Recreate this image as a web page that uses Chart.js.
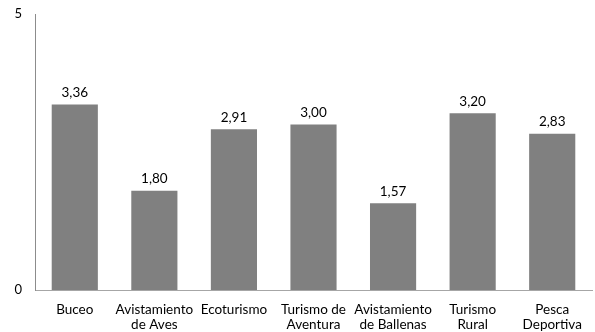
<!DOCTYPE html>
<html>
<head>
<meta charset="utf-8">
<script src="https://cdn.jsdelivr.net/npm/chart.js@4"></script>
<style>
html,body{margin:0;padding:0;background:#fff;}
#wrap{width:595px;height:332px;position:relative;}
</style>
</head>
<body>
<div id="wrap"><canvas id="c" width="595" height="332"></canvas></div>
<script>
const categories = [
  ["Buceo"],
  ["Avistamiento", "de Aves"],
  ["Ecoturismo"],
  ["Turismo de", "Aventura"],
  ["Avistamiento", "de Ballenas"],
  ["Turismo", "Rural"],
  ["Pesca", "Deportiva"]
];
const values = [3.36, 1.80, 2.91, 3.00, 1.57, 3.20, 2.83];
const yTicks = [0, 5];

const FONT = "Lato, 'Open Sans', sans-serif";

const labelPlugin = {
  id: 'barLabels',
  afterDatasetsDraw(chart) {
    const ctx = chart.ctx;
    const meta = chart.getDatasetMeta(0);
    ctx.save();
    ctx.font = "13.5px " + FONT;
    ctx.fillStyle = '#000';
    ctx.textAlign = 'center';
    ctx.textBaseline = 'bottom';
    meta.data.forEach((bar, i) => {
      const v = chart.data.datasets[0].data[i];
      ctx.fillText(v.toFixed(2).replace('.', ','), bar.x, bar.y - 5);
    });
    ctx.restore();
  }
};

new Chart(document.getElementById('c'), {
  type: 'bar',
  data: {
    labels: categories,
    datasets: [{
      data: values,
      backgroundColor: '#808080',
      borderWidth: 0,
      categoryPercentage: 1,
      barPercentage: 0.58
    }]
  },
  options: {
    responsive: false,
    animation: false,
    devicePixelRatio: 1,
    layout: { padding: { top: 14, right: 3, bottom: 0, left: 0 } },
    plugins: { legend: { display: false }, tooltip: { enabled: false } },
    scales: {
      x: {
        grid: { display: false, drawTicks: false },
        border: { display: true, color: '#a6a6a6', width: 1 },
        ticks: {
          color: '#000',
          font: { size: 13.5, family: FONT, lineHeight: 1.1 },
          maxRotation: 0,
          autoSkip: false,
          padding: 12
        },
        afterFit(axis) { axis.height = 42; }
      },
      y: {
        min: 0,
        max: 5,
        afterBuildTicks(axis) { axis.ticks = yTicks.map(v => ({ value: v })); },
        grid: { display: false, drawTicks: false },
        border: { display: true, color: '#8c8c8c', width: 1 },
        ticks: {
          color: '#000',
          font: { size: 13, family: FONT },
          padding: 13
        },
        afterFit(axis) { axis.width = 35; axis.paddingTop = 0; axis.paddingBottom = 0; }
      }
    }
  },
  plugins: [labelPlugin]
});
</script>
</body>
</html>
